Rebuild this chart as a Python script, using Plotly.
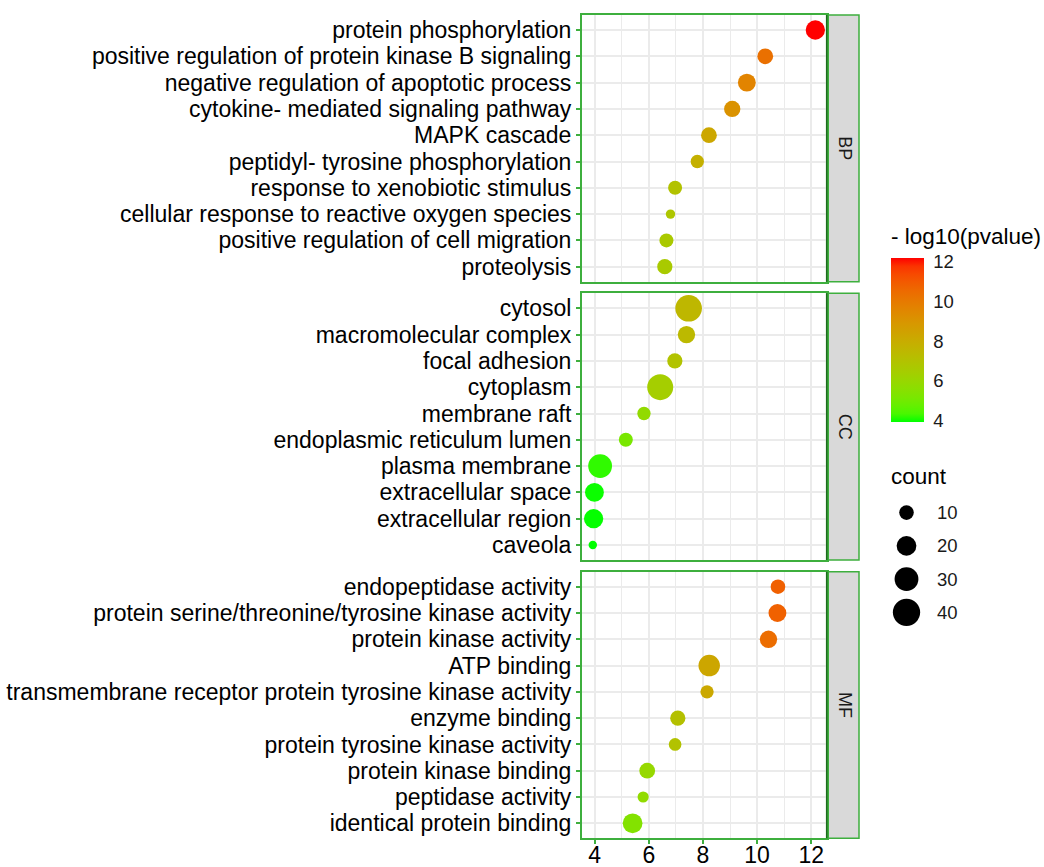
import plotly.graph_objects as go
from plotly.subplots import make_subplots

# ---------------- data ----------------
bp_terms = ["protein phosphorylation", "positive regulation of protein kinase B signaling",
            "negative regulation of apoptotic process", "cytokine- mediated signaling pathway",
            "MAPK cascade", "peptidyl- tyrosine phosphorylation", "response to xenobiotic stimulus",
            "cellular response to reactive oxygen species", "positive regulation of cell migration",
            "proteolysis"]
bp_logp = [12.15, 10.30, 9.62, 9.08, 8.22, 7.79, 6.97, 6.80, 6.65, 6.59]
bp_count = [19, 12, 16, 13, 12, 8, 9, 3, 9, 11]

cc_terms = ["cytosol", "macromolecular complex", "focal adhesion", "cytoplasm", "membrane raft",
            "endoplasmic reticulum lumen", "plasma membrane", "extracellular space",
            "extracellular region", "caveola"]
cc_logp = [7.47, 7.39, 6.96, 6.42, 5.82, 5.15, 4.20, 3.99, 3.96, 3.93]
cc_count = [38, 15, 11, 36, 8, 9, 30, 18, 19, 2]

mf_terms = ["endopeptidase activity", "protein serine/threonine/tyrosine kinase activity",
            "protein kinase activity", "ATP binding",
            "transmembrane receptor protein tyrosine kinase activity", "enzyme binding",
            "protein tyrosine kinase activity", "protein kinase binding", "peptidase activity",
            "identical protein binding"]
mf_logp = [10.77, 10.75, 10.42, 8.23, 8.15, 7.07, 6.97, 5.94, 5.79, 5.40]
mf_count = [10, 16, 15, 24, 8, 11, 7, 12, 5, 20]

facets = ["BP", "CC", "MF"]
x_ticks = [4, 6, 8, 10, 12]
color_ticks = [4, 6, 8, 10, 12]
size_legend = [10, 20, 30, 40]

# ---------------- styling helpers ----------------
W, H = 1044, 867
FONT = "Liberation Sans, Arial, sans-serif"
BORDER = "#3EAF3E"
DARK = "#1E6B1E"
GRID = "#EBEBEB"
AXIS_FS = 23
LEG_TITLE_FS = 22.5
LEG_FS = 18.5


def diam(c):
    return (36 + 17.7 * c) ** 0.5


def srgb_to_lab(rgb):
    def lin(c):
        c = c / 255.0
        return c / 12.92 if c <= 0.04045 else ((c + 0.055) / 1.055) ** 2.4
    r, g, b = [lin(v) for v in rgb]
    X = 0.4124 * r + 0.3576 * g + 0.1805 * b
    Y = 0.2126 * r + 0.7152 * g + 0.0722 * b
    Z = 0.0193 * r + 0.1192 * g + 0.9505 * b
    Xn, Yn, Zn = 0.95047, 1.0, 1.08883
    def f(t):
        return t ** (1 / 3) if t > 0.008856 else 7.787 * t + 16 / 116
    fx, fy, fz = f(X / Xn), f(Y / Yn), f(Z / Zn)
    return (116 * fy - 16, 500 * (fx - fy), 200 * (fy - fz))


def lab_to_srgb(lab):
    L, a, b = lab
    fy = (L + 16) / 116
    fx = fy + a / 500
    fz = fy - b / 200
    def finv(t):
        return t ** 3 if t ** 3 > 0.008856 else (t - 16 / 116) / 7.787
    Xn, Yn, Zn = 0.95047, 1.0, 1.08883
    X, Y, Z = Xn * finv(fx), Yn * finv(fy), Zn * finv(fz)
    r = 3.2406 * X - 1.5372 * Y - 0.4986 * Z
    g = -0.9689 * X + 1.8758 * Y + 0.0415 * Z
    bb = 0.0557 * X - 0.2040 * Y + 1.0570 * Z
    def gam(c):
        c = max(0.0, min(1.0, c))
        return 12.92 * c if c <= 0.0031308 else 1.055 * c ** (1 / 2.4) - 0.055
    return "rgb(%d,%d,%d)" % tuple(round(255 * gam(v)) for v in (r, g, bb))


lo, hi = srgb_to_lab((0, 255, 0)), srgb_to_lab((255, 0, 0))
colorscale = []
for i in range(21):
    t = i / 20
    colorscale.append([t, lab_to_srgb(tuple(lo[k] + (hi[k] - lo[k]) * t for k in range(3)))])

all_logp = bp_logp + cc_logp + mf_logp
cmin, cmax = min(all_logp), max(all_logp)

# ---------------- figure ----------------
fig = make_subplots(rows=3, cols=1, shared_xaxes=True)

panels = [(bp_terms, bp_logp, bp_count), (cc_terms, cc_logp, cc_count), (mf_terms, mf_logp, mf_count)]
for i, (terms, logp, count) in enumerate(panels):
    fig.add_trace(go.Scatter(
        x=logp, y=terms, mode="markers",
        marker=dict(size=[diam(c) for c in count], color=logp, coloraxis="coloraxis",
                    line=dict(width=0), opacity=1),
        showlegend=False, hoverinfo="x+y"), row=i + 1, col=1)

px = lambda p: p / W
py = lambda p: 1 - p / H

x_dom = [px(581.7), px(826.7)]
y_doms = [(py(281.7), py(15)), (py(560), py(293.3)), (py(838.3), py(571.7))]

for i in range(3):
    xa = "xaxis" if i == 0 else "xaxis%d" % (i + 1)
    ya = "yaxis" if i == 0 else "yaxis%d" % (i + 1)
    terms = panels[i][0]
    n = len(terms)
    fig.layout[xa].update(
        domain=x_dom, range=[3.52, 12.57], tickmode="array", tickvals=x_ticks,
        ticktext=[str(v) for v in x_ticks], showgrid=True, gridcolor=GRID,
        gridwidth=2, minor=dict(dtick=1, tick0=3, showgrid=True, gridcolor=GRID, gridwidth=1.4),
        zeroline=False, showline=True, linecolor=BORDER, linewidth=1.5, mirror=True,
        ticks="outside" if i == 2 else "", ticklen=4, tickwidth=1.5, tickcolor=BORDER,
        showticklabels=(i == 2), tickfont=dict(family=FONT, size=AXIS_FS, color="#000000"),
        ticklabelstandoff=-9 if i == 2 else 0, automargin=False)
    fig.layout[ya].update(
        domain=list(y_doms[i]), type="category", categoryorder="array", categoryarray=terms,
        tickmode="array", tickvals=terms, ticktext=terms,
        range=[n - 1 + 0.57, -0.57], showgrid=True, gridcolor=GRID, gridwidth=2,
        zeroline=False, showline=True, linecolor=BORDER, linewidth=1.5, mirror=True,
        ticks="outside", ticklen=4, tickwidth=1.5, tickcolor=BORDER,
        tickfont=dict(family=FONT, size=AXIS_FS, color="#000000"), automargin=False)
    # strip
    y0, y1 = y_doms[i]
    fig.add_shape(type="rect", xref="paper", yref="paper", x0=px(826.7), x1=px(859),
                  y0=y0, y1=y1, fillcolor="#D9D9D9", line=dict(color=BORDER, width=1.5), layer="below")
    fig.add_shape(type="line", xref="paper", yref="paper", x0=px(826.7), x1=px(826.7),
                  y0=y0, y1=y1, line=dict(color=DARK, width=1.5))
    fig.add_annotation(x=px(845), y=(y0 + y1) / 2, xref="paper", yref="paper", text=facets[i],
                       textangle=90, showarrow=False, xanchor="center", yanchor="middle",
                       font=dict(family=FONT, size=18, color="#1A1A1A"))

# colour bar
fig.update_layout(coloraxis=dict(
    colorscale=colorscale, cmin=cmin, cmax=cmax,
    colorbar=dict(x=px(890.7), xanchor="left", y=py(340.3), yanchor="middle",
                  len=164 / H, lenmode="fraction", thickness=32.6, xpad=0, ypad=0,
                  outlinewidth=0, tickvals=color_ticks, ticks="outside", ticklen=6,
                  tickcolor="white", tickwidth=1,
                  tickfont=dict(family=FONT, size=LEG_FS, color="#1A1A1A"), title=dict(text=""))))
fig.add_annotation(x=px(889), y=py(237), xref="paper", yref="paper", text="- log10(pvalue)",
                   xanchor="left", yanchor="middle", showarrow=False,
                   font=dict(family=FONT, size=LEG_TITLE_FS, color="#000000"))

# size legend
fig.add_trace(go.Scatter(x=[0.5] * len(size_legend), y=list(range(len(size_legend))), mode="markers",
                         marker=dict(size=[diam(c) for c in size_legend], color="black",
                                     line=dict(width=0), opacity=1),
                         xaxis="x4", yaxis="y4", showlegend=False, hoverinfo="skip"))
fig.update_layout(
    xaxis4=dict(domain=[px(890), px(923)], range=[0, 1], visible=False, anchor="y4", fixedrange=True),
    yaxis4=dict(domain=[py(629), py(496)], range=[3.5, -0.5], visible=False, anchor="x4", fixedrange=True))
for k, c in enumerate(size_legend):
    fig.add_annotation(x=px(935), y=k, xref="paper", yref="y4", text=str(c), xanchor="left",
                       yanchor="middle", showarrow=False,
                       font=dict(family=FONT, size=LEG_FS, color="#1A1A1A"))
fig.add_annotation(x=px(889), y=py(476.7), xref="paper", yref="paper", text="count",
                   xanchor="left", yanchor="middle", showarrow=False,
                   font=dict(family=FONT, size=LEG_TITLE_FS, color="#000000"))

fig.update_layout(width=W, height=H, margin=dict(l=0, r=0, t=0, b=0),
                  paper_bgcolor="white", plot_bgcolor="white", showlegend=False,
                  font=dict(family=FONT))

fig.write_html("out.html", config={"displayModeBar": False},
               post_script="document.body.style.margin='0';document.body.style.overflow='hidden';")
